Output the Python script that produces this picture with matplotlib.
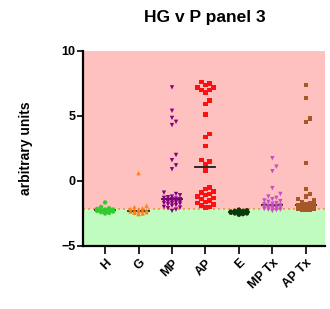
import matplotlib
matplotlib.use('Agg')
import matplotlib.pyplot as plt
import numpy as np

plt.rcParams['font.family'] = ['Liberation Sans', 'DejaVu Sans']

# group labels and styling
groups = ['H', 'G', 'MP', 'AP', 'E', 'MP Tx', 'AP Tx']
colors = ['#2ecc2e', '#ff7f1a', '#850085', '#ff1010', '#0a3a0a', '#c34fc3', '#a5592a']
markers = ['o', '^', 'v', 's', 'o', 'v', 's']

# values
h_vals = [-1.65, -2.0, -2.1, -2.15, -2.2, -2.2, -2.25, -2.25, -2.3, -2.3,
          -2.35, -2.4, -2.45, -2.5]
g_vals = [0.6, -1.9, -2.0, -2.1, -2.15, -2.2, -2.25, -2.3, -2.3, -2.35, -2.35,
          -2.4, -2.45, -2.5, -2.55]
mp_vals = [7.2, 5.4, 4.85, 4.55, 4.3, 2.0, 1.6, 1.2, 0.9, -0.9, -1.0, -1.1, -1.2,
           -1.25, -1.3, -1.35, -1.4, -1.4, -1.45, -1.5, -1.5, -1.55, -1.6, -1.6,
           -1.65, -1.7, -1.7, -1.75, -1.8, -1.85, -1.9, -2.0, -2.05, -2.1, -2.2, -2.3]
ap_vals = [7.6, 7.5, 7.4, 7.2, 7.2, 7.0, 7.0, 6.8, 6.2, 5.9, 5.1, 3.6, 3.4, 2.7,
           1.6, 1.5, 1.3, 0.8, -0.5, -0.6, -0.8, -0.9, -1.0, -1.1, -1.2, -1.3,
           -1.4, -1.5, -1.6, -1.7, -1.8, -1.9, -2.0, -2.05]
e_vals = [-2.2, -2.25, -2.3, -2.3, -2.35, -2.35, -2.4, -2.4, -2.4, -2.45,
          -2.45, -2.5, -2.5, -2.55, -2.6]
mptx_vals = [1.75, 1.1, 0.75, -0.55, -1.0, -1.2, -1.3, -1.4, -1.5, -1.55, -1.6,
             -1.7, -1.75, -1.8, -1.85, -1.9, -1.9, -1.95, -2.0, -2.0, -2.05, -2.1,
             -2.1, -2.15, -2.2, -2.2, -2.25, -2.3]
aptx_vals = [7.4, 6.4, 4.8, 4.55, 1.4, -0.6, -1.0, -1.2, -1.4, -1.5, -1.6, -1.7,
             -1.8, -1.85, -1.9, -1.95, -2.0, -2.0, -2.05, -2.05, -2.1, -2.1, -2.1,
             -2.15, -2.15, -2.2, -2.2, -2.25]
all_vals = [h_vals, g_vals, mp_vals, ap_vals, e_vals, mptx_vals, aptx_vals]

cutoff = -2.15
ymin, ymax = -5, 10


def swarm(vals, dx=0.12, dy=0.45, maxw=0.33):
    # simple beeswarm, points allowed to overlap once the cluster is too wide
    placed = []
    offs = np.zeros(len(vals))
    order = np.argsort(vals)
    for i in order:
        y = vals[i]
        best, bestd = 0.0, -1.0
        k = 0
        while True:
            cand = (k + 1) // 2 * (1 if k % 2 else -1) * dx
            if abs(cand) > maxw:
                break
            d = min([((cand - px) / dx) ** 2 + ((y - py) / dy) ** 2
                     for px, py in placed] + [9.0])
            if d >= 1.0:
                best = cand
                bestd = d
                break
            if d > bestd:
                best, bestd = cand, d
            k += 1
        offs[i] = best
        placed.append((best, y))
    return offs


fig = plt.figure(figsize=(3.3, 3.09), dpi=100)
ax = fig.add_axes([0.2515, 0.204, 0.733, 0.631])

ax.axhspan(cutoff, ymax, color='#ffc0c0', zorder=0, lw=0)
ax.axhspan(ymin, cutoff, color='#c0fcc0', zorder=0, lw=0)
ax.axhline(cutoff, color='#d9a040', ls=(0, (1.2, 1.8)), lw=1.2, zorder=1)

for i, vals in enumerate(all_vals):
    offs = swarm(vals)
    ax.scatter(i + offs, vals, s=10, marker=markers[i], color=colors[i],
               edgecolors='none', zorder=3)
    med = np.median(vals)
    ax.plot([i - 0.3, i + 0.3], [med, med], color='#1a1a1a', lw=1.3, zorder=2)

ax.set_xlim(-0.66, 6.57)
ax.set_ylim(ymin, ymax)
ax.set_yticks([-5, 0, 5, 10])
ax.set_xticks(range(len(groups)))
ax.set_xticklabels(groups, rotation=45, ha='right', rotation_mode='anchor',
                   fontsize=9, fontweight='bold')
for lab in ax.get_yticklabels():
    lab.set_fontweight('bold')
    lab.set_fontsize(9)

for s in ['top', 'right']:
    ax.spines[s].set_visible(False)
ax.spines['left'].set_linewidth(1.6)
ax.spines['bottom'].set_linewidth(1.6)
ax.tick_params(axis='y', length=4, width=1.2, pad=1.5)
ax.tick_params(axis='x', length=6, width=1.2, pad=2)

ax.set_ylabel('arbitrary units', fontsize=10, fontweight='bold', labelpad=20)
fig.text(0.621, 0.942, 'HG v P panel 3', ha='center', va='center',
         fontsize=12.5, fontweight='bold')

fig.savefig('out.png', dpi=100)
